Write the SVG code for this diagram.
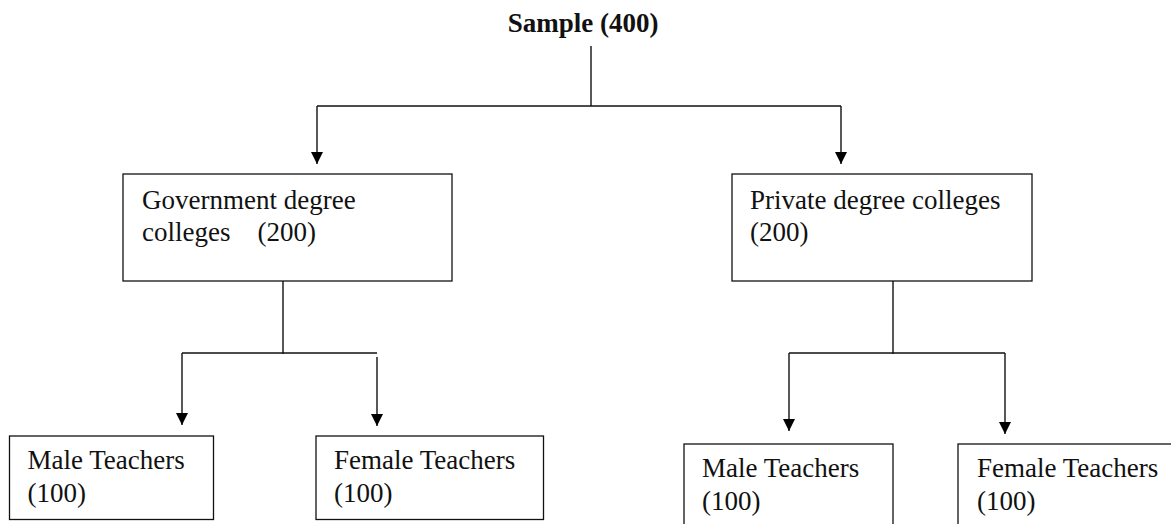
<svg xmlns="http://www.w3.org/2000/svg" width="1171" height="524" viewBox="0 0 1171 524">
<defs>
<style>
.t{font-family:"Liberation Serif","Times New Roman",serif;font-size:27px;fill:#111;white-space:pre}
.b{font-weight:bold}
.box{fill:#fff;stroke:#111;stroke-width:1.3}
.c{stroke:#111;stroke-width:1.4;fill:none}
</style>
<marker id="ah" viewBox="0 0 12 12" refX="12" refY="6" markerWidth="12" markerHeight="12" markerUnits="userSpaceOnUse" orient="auto">
<path d="M0,0 L12,6 L0,12 z" fill="#000"/>
</marker>
</defs>
<rect width="1171" height="524" fill="#fff"/>
<g id="connectors">
<line class="c" x1="591" y1="46" x2="591" y2="106"/>
<line class="c" x1="317" y1="106" x2="841" y2="106"/>
<line class="c" x1="317" y1="106" x2="317" y2="164" marker-end="url(#ah)"/>
<line class="c" x1="841" y1="106" x2="841" y2="164" marker-end="url(#ah)"/>
<line class="c" x1="283" y1="281" x2="283" y2="354"/>
<line class="c" x1="182" y1="353" x2="377" y2="353"/>
<line class="c" x1="182" y1="353" x2="182" y2="425" marker-end="url(#ah)"/>
<line class="c" x1="377" y1="357" x2="377" y2="426" marker-end="url(#ah)"/>
<line class="c" x1="893" y1="281" x2="893" y2="354"/>
<line class="c" x1="789" y1="353" x2="1005" y2="353"/>
<line class="c" x1="789" y1="353" x2="789" y2="431" marker-end="url(#ah)"/>
<line class="c" x1="1005" y1="353" x2="1005" y2="434" marker-end="url(#ah)"/>
</g>
<g id="sample">
<text class="t b" x="583" y="32" text-anchor="middle">Sample (400)</text>
</g>
<g id="gov">
<rect class="box" x="123" y="174" width="329" height="107"/>
<text class="t" x="142" y="209">Government degree</text>
<text class="t" x="142" y="241">colleges    (200)</text>
</g>
<g id="private">
<rect class="box" x="732" y="174" width="300" height="107"/>
<text class="t" x="750" y="209">Private degree colleges</text>
<text class="t" x="750" y="241">(200)</text>
</g>
<g id="gov-male">
<rect class="box" x="9.5" y="436" width="204" height="83.5"/>
<text class="t" x="27.5" y="469">Male Teachers</text>
<text class="t" x="27.5" y="502">(100)</text>
</g>
<g id="gov-female">
<rect class="box" x="316" y="436" width="227.5" height="83.5"/>
<text class="t" x="334" y="469">Female Teachers</text>
<text class="t" x="334" y="502">(100)</text>
</g>
<g id="pvt-male">
<rect class="box" x="684" y="444" width="209" height="90"/>
<text class="t" x="702" y="477">Male Teachers</text>
<text class="t" x="702" y="510">(100)</text>
</g>
<g id="pvt-female">
<rect class="box" x="958" y="444" width="230" height="90"/>
<text class="t" x="977" y="477">Female Teachers</text>
<text class="t" x="977" y="510">(100)</text>
</g>
</svg>
